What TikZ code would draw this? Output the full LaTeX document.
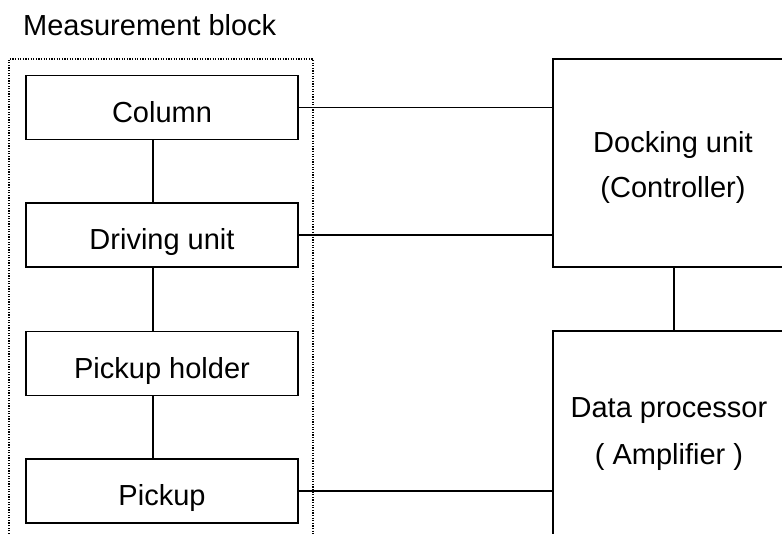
\documentclass[tikz,border=0pt]{standalone}
\usepackage{fontspec}
\setmainfont{Liberation Sans}
\begin{document}
\begin{tikzpicture}[x=1pt,y=-1pt,
  txt/.style={font=\fontsize{29}{46}\selectfont,inner sep=0pt},
  unitbox/.style={draw,line width=1.8pt,minimum width=272pt,minimum height=64pt,inner sep=0pt,txt,text height=29pt,text depth=0pt},
  bigbox/.style={draw,line width=1.8pt,minimum width=242pt,minimum height=208pt,inner sep=0pt},
  wire/.style={line width=1.8pt},
  dotbox/.style={line width=1.6pt,dash pattern=on 1.2pt off 1.4pt}]
\useasboundingbox (0,0) rectangle (782,533);
\clip (0,0) rectangle (782,533);
\fill[white] (0,0) rectangle (782,533);
\node[txt,anchor=base west] (title) at (23,35) {Measurement block};
\draw[dotbox] (9,560) -- (9,59) -- (313,59) -- (313,560);
\node[unitbox] (col) at (162,107.5) {Column};
\node[unitbox] (drv) at (162,235) {Driving unit};
\node[unitbox] (hold) at (162,363.5) {Pickup holder};
\node[unitbox] (pick) at (162,491) {Pickup};
\node[bigbox] (dock) at (674,163) {};
\node[bigbox] (data) at (674,435) {};
\node[txt,anchor=base] (dock1) at (673,152) {Docking unit};
\node[txt,anchor=base] (dock2) at (673,197) {(Controller)};
\node[txt,anchor=base] (data1) at (669,417) {Data processor};
\node[txt,anchor=base] (data2) at (669,464) {( Amplifier )};
\draw[wire] ([xshift=-9pt]col.south) -- ([xshift=-9pt]drv.north);
\draw[wire] ([xshift=-9pt]drv.south) -- ([xshift=-9pt]hold.north);
\draw[wire] ([xshift=-9pt]hold.south) -- ([xshift=-9pt]pick.north);
\draw[wire] (col.east) -- (col.east -| dock.west);
\draw[wire] (drv.east) -- (drv.east -| dock.west);
\draw[wire] (pick.east) -- (pick.east -| data.west);
\draw[wire] (dock.south) -- (data.north);
\end{tikzpicture}
\end{document}
